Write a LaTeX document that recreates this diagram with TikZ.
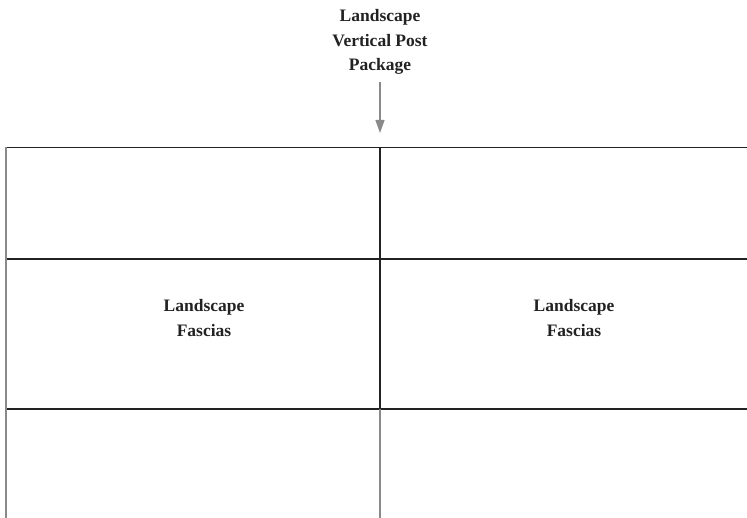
\documentclass[tikz,border=0pt]{standalone}
\usepackage{fontspec}
\setmainfont{Liberation Serif}
\usepackage{tikz}
\usetikzlibrary{arrows.meta,positioning}
\definecolor{ink}{HTML}{222222}
\definecolor{pale}{HTML}{8A8A8A}

\begin{document}
\begin{tikzpicture}[x=1pt,y=-1pt,every node/.style={font=\fontsize{17.5}{24.5}\selectfont\bfseries,align=center,text=ink},darkline/.style={draw=ink,line width=1.6pt},paleline/.style={draw=pale,line width=1.8pt}]
\useasboundingbox (0,0) rectangle (747,518);
\node[inner sep=2pt] (post) at (380,42) {Landscape\\Vertical Post\\Package};
\coordinate (postend) at (380,133);
\node (fasciaL) at (204,318) {Landscape\\Fascias};
\node (fasciaR) at (574,318) {Landscape\\Fascias};
\draw[-{Triangle[length=13pt,width=9pt]},pale,line width=1.4pt,shorten <=5pt] (post)--(postend);
\draw[darkline] (6,147.5)--(760,147.5);
\draw[darkline] (6,259)--(760,259);
\draw[darkline] (6,409)--(760,409);
\draw[darkline] (380,147.5)--(380,409);
\draw[paleline] (380,409)--(380,520);
\draw[paleline] (6,147.5)--(6,520);
\end{tikzpicture}
\end{document}
